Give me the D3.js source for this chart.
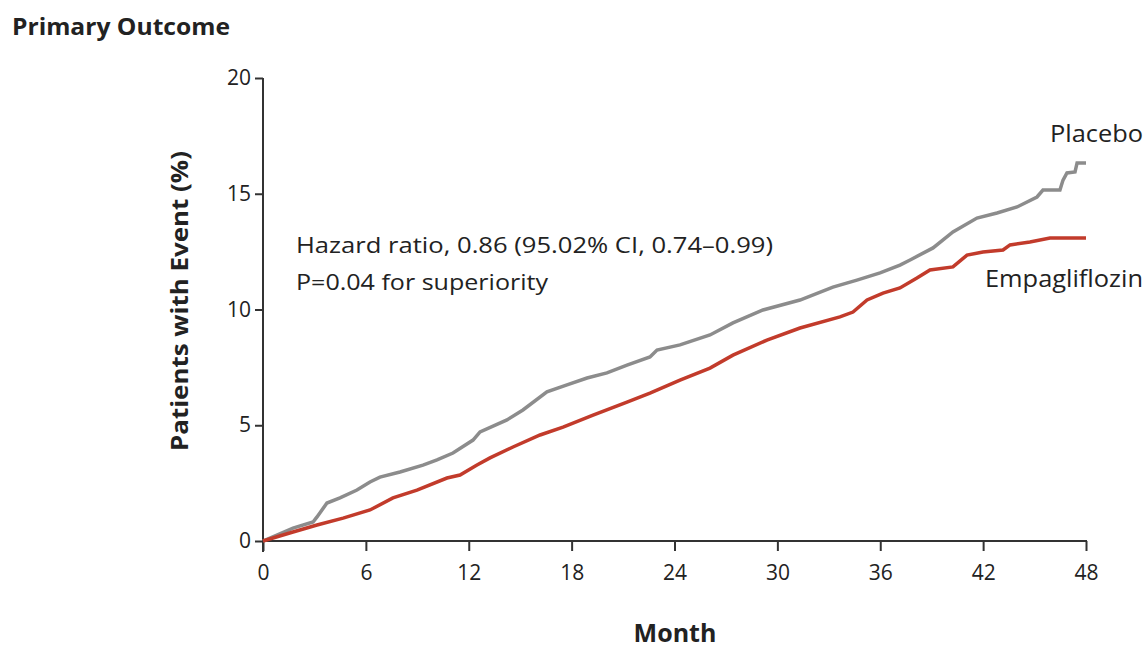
<!DOCTYPE html>
<html lang="en">
<head>
    <meta charset="UTF-8">
    <script src="https://d3js.org/d3.v7.min.js"></script>
    <title>Primary Outcome</title>
    <style>
        body { margin: 0; background: #fff; }
        text { font-family: "Liberation Sans Narrow", "Open Sans", "Liberation Sans", sans-serif; fill: #222; }
    </style>
</head>
<body>
<script>
    var width = 1146;
    var height = 648;

    // months and cumulative incidence (%)
    var placeboMonth = [0, 1.75, 2.92, 3.15, 3.73, 4.49, 5.48, 6.24, 6.82, 7.99, 9.33, 10.15, 11.08, 12.25, 12.66,
        14.23, 15.16, 16.56, 17.73, 18.9, 20.06, 21.23, 22.57, 22.98, 24.32, 26.07, 27.41, 29.16, 31.32, 33.24,
        34.64, 35.99, 37.15, 37.74, 39.08, 40.24, 41.64, 42.81, 43.98, 45.14, 45.49, 46.48, 46.66, 46.89, 47.36, 47.48, 48];
    var placeboValue = [0, 0.56, 0.82, 1.04, 1.64, 1.86, 2.2, 2.55, 2.76, 2.98, 3.28, 3.5, 3.8, 4.36, 4.71,
        5.23, 5.66, 6.44, 6.74, 7.04, 7.26, 7.6, 7.95, 8.25, 8.47, 8.9, 9.42, 9.98, 10.41, 10.97,
        11.27, 11.58, 11.92, 12.14, 12.66, 13.35, 13.95, 14.17, 14.43, 14.86, 15.16, 15.16, 15.59, 15.9, 15.94, 16.33, 16.33];

    var empaMonth = [0, 1.75, 3.15, 4.67, 6.24, 7.58, 8.98, 10.73, 11.49, 12.48, 13.24, 14.58, 16.16, 17.5, 19.25,
        21.23, 22.57, 24.32, 26.07, 27.41, 29.39, 31.32, 33.65, 34.41, 35.23, 36.16, 37.15, 38.14, 38.9, 40.24,
        41.06, 41.99, 43.16, 43.57, 44.73, 45.9, 48];
    var empaValue = [0, 0.39, 0.69, 0.99, 1.34, 1.86, 2.2, 2.72, 2.85, 3.28, 3.59, 4.06, 4.58, 4.92, 5.44,
        6.0, 6.39, 6.95, 7.47, 8.03, 8.68, 9.2, 9.68, 9.89, 10.41, 10.71, 10.93, 11.36, 11.71, 11.84,
        12.35, 12.48, 12.57, 12.79, 12.92, 13.09, 13.09];

    var xTicks = [0, 6, 12, 18, 24, 30, 36, 42, 48];
    var yTicks = [0, 5, 10, 15, 20];

    var x = d3.scaleLinear().domain([0, 48]).range([263, 1086]);
    var y = d3.scaleLinear().domain([0, 20]).range([541, 78]);

    var svg = d3.select("body").append("svg")
            .attr("width", width)
            .attr("height", height);

    svg.append("text")
            .attr("x", 12).attr("y", 35)
            .attr("font-size", 23).attr("font-weight", "bold")
            .attr("textLength", 218).attr("lengthAdjust", "spacingAndGlyphs")
            .text("Primary Outcome");

    var xAxis = svg.append("g")
            .attr("transform", "translate(0,541)")
            .call(d3.axisBottom(x).tickValues(xTicks).tickSize(10).tickSizeOuter(0).tickPadding(14));

    var yAxis = svg.append("g")
            .attr("transform", "translate(263,0)")
            .call(d3.axisLeft(y).tickValues(yTicks).tickSize(8).tickSizeOuter(0).tickPadding(4));

    [xAxis, yAxis].forEach(function (g) {
        g.select(".domain").attr("stroke", "#333").attr("stroke-width", 2);
        g.selectAll(".tick line").attr("stroke", "#333").attr("stroke-width", 2);
        g.selectAll(".tick text").attr("font-size", 21).attr("fill", "#222")
                .style("font-family", "'Liberation Sans Narrow', 'Open Sans', sans-serif");
    });
    // y axis runs slightly below the x axis
    yAxis.select(".domain").attr("d", "M0," + y(20) + "V552");
    xAxis.select(".domain").attr("d", "M" + x(0) + ",0H" + (x(48) + 1));

    var line = d3.line()
            .x(function (d) { return x(d[0]); })
            .y(function (d) { return y(d[1]); });

    var placebo = placeboMonth.map(function (m, i) { return [m, placeboValue[i]]; });
    var empa = empaMonth.map(function (m, i) { return [m, empaValue[i]]; });

    svg.append("path").datum(placebo)
            .attr("d", line).attr("fill", "none")
            .attr("stroke", "#8c8c8c").attr("stroke-width", 3.5);

    svg.append("path").datum(empa)
            .attr("d", line).attr("fill", "none")
            .attr("stroke", "#c23b2b").attr("stroke-width", 3.5);

    svg.append("text")
            .attr("x", 1050).attr("y", 142)
            .attr("font-size", 23)
            .attr("textLength", 93).attr("lengthAdjust", "spacingAndGlyphs")
            .text("Placebo");

    svg.append("text")
            .attr("x", 985).attr("y", 287)
            .attr("font-size", 23)
            .attr("textLength", 158).attr("lengthAdjust", "spacingAndGlyphs")
            .text("Empagliflozin");

    svg.append("text")
            .attr("x", 296).attr("y", 253)
            .attr("font-size", 22)
            .attr("textLength", 477).attr("lengthAdjust", "spacingAndGlyphs")
            .text("Hazard ratio, 0.86 (95.02% CI, 0.74\u20130.99)");

    svg.append("text")
            .attr("x", 296).attr("y", 290)
            .attr("font-size", 22)
            .attr("textLength", 252).attr("lengthAdjust", "spacingAndGlyphs")
            .text("P=0.04 for superiority");

    svg.append("text")
            .attr("x", 675).attr("y", 642)
            .attr("text-anchor", "middle")
            .attr("font-size", 25).attr("font-weight", "bold")
            .text("Month");

    svg.append("text")
            .attr("transform", "translate(188,301) rotate(-90)")
            .attr("text-anchor", "middle")
            .attr("font-size", 24).attr("font-weight", "bold")
            .attr("textLength", 300).attr("lengthAdjust", "spacingAndGlyphs")
            .text("Patients with Event (%)");
</script>
</body>
</html>
